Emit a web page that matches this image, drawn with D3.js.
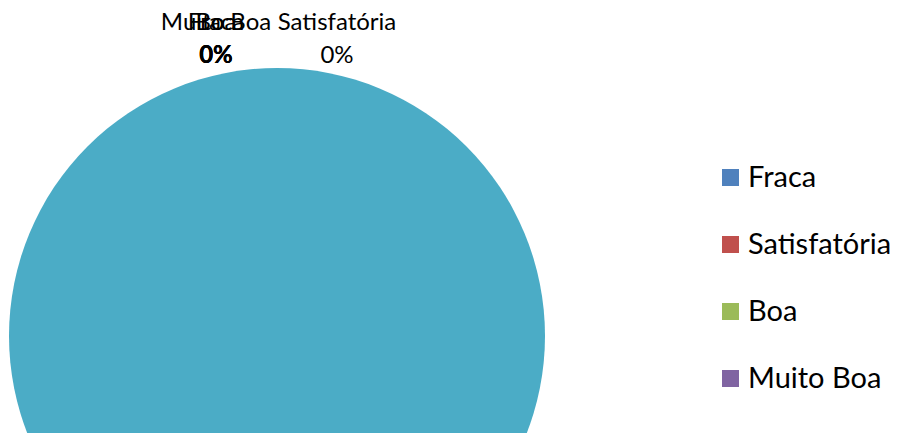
<!DOCTYPE html>
<html>
<head>
<meta charset="utf-8">
<script src="https://cdn.jsdelivr.net/npm/d3@7"></script>
<style>
  html, body { margin: 0; padding: 0; background: #fff; overflow: hidden; }
  text { font-family: Lato, "Open Sans", sans-serif; fill: #000; }
</style>
</head>
<body>
<div id="chart"></div>
<script>
const categories = ["Fraca", "Satisfatória", "Boa", "Muito Boa", "Excelente"];
const values = [0, 0, 0, 0, 100];
const colors = ["#4F81BD", "#C0504D", "#9BBB59", "#8064A2", "#4BACC6"];
// horizontal shift of the zero-slice labels (Excel stacks them at the top)
const labelShift = [-61, 60, -61, -61, 0];
const boldLabels = [true, false, true, true, false];

const width = 899, height = 433;
const cx = 277, cy = 336, radius = 268;

const svg = d3.select("#chart").append("svg")
    .attr("width", width)
    .attr("height", height);

const pie = d3.pie().sort(null).value((d) => d.value);
const arcs = pie(categories.map((c, i) => ({name: c, value: values[i], i})));
const arc = d3.arc().innerRadius(0).outerRadius(radius);

const g = svg.append("g").attr("transform", `translate(${cx},${cy})`);

g.selectAll("path.slice")
    .data(arcs.filter((a) => a.value > 0))
    .join("path")
    .attr("class", "slice")
    .attr("d", arc)
    .attr("fill", (d) => colors[d.data.i]);

const total = d3.sum(values);
const pct = (v) => `${Math.round(v / total * 100)}%`;

// labels
arcs.forEach((a) => {
    const i = a.data.i;
    if (a.value === 0) {
        const ang = a.startAngle;
        const x = Math.sin(ang) * radius + labelShift[i];
        const y = -Math.cos(ang) * radius;
        const t = g.append("text")
            .attr("text-anchor", "middle")
            .style("font-size", "24px");
        t.append("tspan").attr("x", x).attr("y", y - 38).text(a.data.name);
        t.append("tspan").attr("x", x).attr("y", y - 5)
            .style("font-weight", boldLabels[i] ? "bold" : "normal")
            .text(pct(a.value));
    } else {
        const [px, py] = arc.centroid(a);
        const t = g.append("text")
            .attr("text-anchor", "middle")
            .style("font-size", "24px");
        t.append("tspan").attr("x", px).attr("y", py + 10).text(a.data.name);
        t.append("tspan").attr("x", px).attr("y", py + 43).text(pct(a.value));
    }
});

// legend
const legend = svg.append("g").attr("transform", "translate(722,177)");
const item = legend.selectAll("g")
    .data(categories)
    .join("g")
    .attr("transform", (d, i) => `translate(0,${i * 67})`);

item.append("rect")
    .attr("x", 0).attr("y", -8)
    .attr("width", 17).attr("height", 17)
    .attr("fill", (d, i) => colors[i]);

item.append("text")
    .attr("x", 26).attr("y", 10)
    .style("font-size", "29px")
    .text((d) => d);
</script>
</body>
</html>
